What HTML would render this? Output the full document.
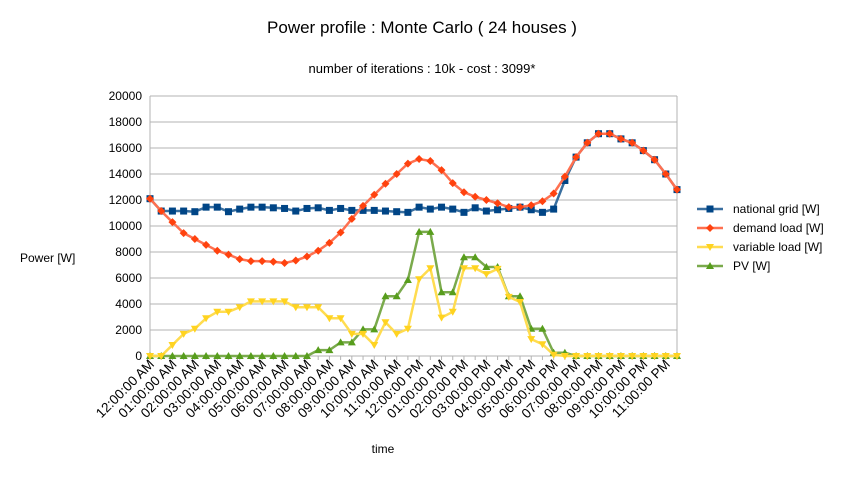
<!DOCTYPE html>
<html><head><meta charset="utf-8"><style>
body{margin:0;background:#fff;}
svg text{font-family:"Liberation Sans",sans-serif;fill:#000;}
</style></head><body>
<svg id="chart" width="845" height="476">
<text x="422" y="33" font-size="17" text-anchor="middle">Power profile : Monte Carlo ( 24 houses )</text>
<text x="422" y="73" font-size="13" text-anchor="middle">number of iterations : 10k - cost : 3099*</text>
<text x="20" y="262" font-size="12">Power [W]</text>
<text x="383" y="453" font-size="12" text-anchor="middle">time</text>
<g id="grid"></g><g id="axes"></g><g id="series"></g><g id="legend"></g>
</svg>
<script>
const yTicks=[0,2000,4000,6000,8000,10000,12000,14000,16000,18000,20000];
const hours=["12:00:00 AM","01:00:00 AM","02:00:00 AM","03:00:00 AM","04:00:00 AM","05:00:00 AM","06:00:00 AM","07:00:00 AM","08:00:00 AM","09:00:00 AM","10:00:00 AM","11:00:00 AM","12:00:00 PM","01:00:00 PM","02:00:00 PM","03:00:00 PM","04:00:00 PM","05:00:00 PM","06:00:00 PM","07:00:00 PM","08:00:00 PM","09:00:00 PM","10:00:00 PM","11:00:00 PM"];
const grid=[12100,11150,11150,11150,11100,11450,11450,11100,11300,11450,11450,11400,11350,11150,11350,11400,11200,11350,11200,11200,11200,11150,11100,11050,11450,11300,11450,11300,11050,11400,11150,11250,11350,11450,11250,11050,11300,13500,15300,16400,17100,17100,16700,16400,15800,15100,14000,12800];
const demand=[12100,11150,10300,9450,9000,8550,8100,7800,7450,7300,7300,7250,7150,7350,7650,8100,8700,9500,10550,11550,12400,13250,14000,14800,15150,15000,14300,13300,12600,12250,12000,11750,11450,11450,11600,11900,12500,13800,15300,16400,17100,17100,16700,16400,15800,15100,14000,12800];
const variable=[0,0,850,1700,2100,2900,3400,3400,3750,4200,4200,4200,4200,3750,3750,3750,2900,2900,1700,1700,850,2600,1700,2100,5900,6750,2950,3400,6750,6750,6300,6700,4550,4150,1300,900,100,0,0,0,0,0,0,0,0,0,0,0];
const pv=[0,0,0,0,0,0,0,0,0,0,0,0,0,0,0,450,450,1050,1050,2050,2050,4600,4600,5850,9550,9550,4900,4900,7600,7600,6850,6850,4600,4600,2100,2100,250,250,0,0,0,0,0,0,0,0,0,0];
const seriesNames=["national grid [W]","demand load [W]","variable load [W]","PV [W]"];
const NS="http://www.w3.org/2000/svg";
const X0=150,X1=677,Y0=356,Y1=96;
const xs=i=>X0+i*(X1-X0)/47;
const ys=v=>Y0-v*(Y0-Y1)/20000;
function mk(t,a,p){const e=document.createElementNS(NS,t);for(const k in a)e.setAttribute(k,a[k]);p.appendChild(e);return e;}
const gG=document.getElementById('grid'),gA=document.getElementById('axes'),gS=document.getElementById('series'),gL=document.getElementById('legend');
yTicks.forEach(v=>{
 const l=mk('line',{x1:X0,x2:X1,y1:ys(v),y2:ys(v),stroke:'#b3b3b3','stroke-width':1},gG);
 
 
 const t=mk('text',{x:X0-8,y:ys(v)+4,'font-size':12,'text-anchor':'end'},gA);
 t.textContent=v;
 
 
});
mk('line',{x1:X0,x2:X0,y1:Y1,y2:Y0,stroke:'#b3b3b3'},gG);
mk('line',{x1:X1,x2:X1,y1:Y1,y2:Y0,stroke:'#b3b3b3'},gG);
for(let i=0;i<48;i++){mk('line',{x1:xs(i),x2:xs(i),y1:Y0,y2:Y0+4,stroke:'#b3b3b3'},gG);}
hours.forEach((h,k)=>{
 const x=xs(2*k)+5,y=365;
 const t=mk('text',{x:x,y:y,'font-size':13.5,'text-anchor':'end',transform:`rotate(-45 ${x} ${y})`},gA);
 t.textContent=h;
 
 
});
const cols=['#004586','#ff420e','#ffd320','#579d1c'];
const lineCols=['#3a6f9f','#ff7050','#ffdc50','#7aaa4c'];
function marker(type,x,y,c,p){
 if(type===0) return mk('rect',{x:x-3.5,y:y-3.5,width:7,height:7,fill:c},p);
 if(type===1) return mk('polygon',{points:`${x},${y-4} ${x+4},${y} ${x},${y+4} ${x-4},${y}`,fill:c},p);
 if(type===2) return mk('polygon',{points:`${x-4},${y-3} ${x+4},${y-3} ${x},${y+4}`,fill:c},p);
 return mk('polygon',{points:`${x-4},${y+3} ${x+4},${y+3} ${x},${y-4}`,fill:c},p);
}
const data=[grid,demand,variable,pv];
[3,2,0,1].forEach(s=>{
 const g=mk('g',{},gS);
 
 
 mk('polyline',{points:data[s].map((v,i)=>xs(i)+','+ys(v)).join(' '),fill:'none',stroke:lineCols[s],'stroke-width':2.5,'stroke-linejoin':'round'},g);
 data[s].forEach((v,i)=>{const m=marker(s,xs(i),ys(v),cols[s],g);
  
  });
});
seriesNames.forEach((n,s)=>{
 const y=209+s*19;
 const g=mk('g',{},gL);
 
 
 mk('line',{x1:697,x2:723,y1:y,y2:y,stroke:lineCols[s],'stroke-width':2.5},g);
 marker(s,710,y,cols[s],g);
 const t=mk('text',{x:733,y:y+4,'font-size':12},g);t.textContent=n;
});
</script>
</body></html>
